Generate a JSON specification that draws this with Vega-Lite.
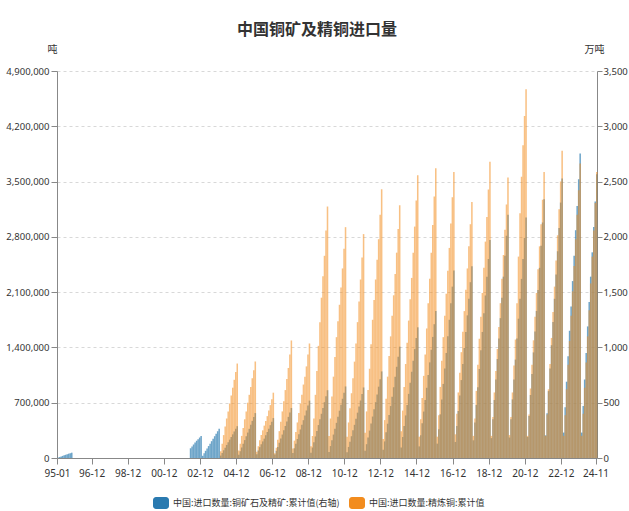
{
  "$schema": "https://vega.github.io/schema/vega-lite/v6.json",
  "width": 540,
  "height": 387,
  "autosize": {"type": "none"},
  "padding": {"left": 57, "top": 71, "right": 32, "bottom": 53},
  "background": "white",
  "title": {
    "text": "中国铜矿及精铜进口量",
    "font": "Noto Sans CJK SC",
    "fontSize": 16,
    "fontWeight": "bold",
    "color": "#333333",
    "anchor": "middle",
    "frame": "group",
    "offset": 6,
    "dx": -10
  },
  "config": {
    "view": {"stroke": null},
    "axis": {
      "labelFont": "Noto Sans",
      "labelFontSize": 9.5,
      "labelColor": "#333333",
      "titleFont": "Noto Sans CJK SC",
      "titleFontSize": 10,
      "titleFontWeight": "normal",
      "titleColor": "#333333",
      "domainColor": "#888888",
      "tickColor": "#888888",
      "gridColor": "#d8d8d8",
      "gridDash": [3, 3]
    },
    "legend": {
      "labelFont": "Noto Sans CJK SC",
      "labelFontSize": 9,
      "labelColor": "#333333"
    }
  },
  "data": {
    "values": [
      {"d": "1995-01", "ore": 4}, {"d": "1995-02", "ore": 9}, {"d": "1995-03", "ore": 14}, {"d": "1995-04", "ore": 19}, {"d": "1995-05", "ore": 24}, {"d": "1995-06", "ore": 29}, {"d": "1995-07", "ore": 34}, {"d": "1995-08", "ore": 39}, {"d": "1995-09", "ore": 44}, {"d": "1995-10", "ore": 48},
      {"d": "2002-05", "ore": 88}, {"d": "2002-06", "ore": 105}, {"d": "2002-07", "ore": 122}, {"d": "2002-08", "ore": 140}, {"d": "2002-09", "ore": 156}, {"d": "2002-10", "ore": 170}, {"d": "2002-11", "ore": 185}, {"d": "2002-12", "ore": 200},
      {"d": "2003-01", "ore": 20}, {"d": "2003-02", "ore": 42}, {"d": "2003-03", "ore": 65}, {"d": "2003-04", "ore": 85}, {"d": "2003-05", "ore": 108}, {"d": "2003-06", "ore": 130}, {"d": "2003-07", "ore": 152}, {"d": "2003-08", "ore": 175}, {"d": "2003-09", "ore": 197}, {"d": "2003-10", "ore": 220}, {"d": "2003-11", "ore": 242}, {"d": "2003-12", "ore": 265},
      {"d": "2004-01", "ore": 22, "cu": 85000}, {"d": "2004-02", "ore": 45, "cu": 180000}, {"d": "2004-03", "ore": 70, "cu": 290000}, {"d": "2004-04", "ore": 93, "cu": 400000}, {"d": "2004-05", "ore": 118, "cu": 500000}, {"d": "2004-06", "ore": 142, "cu": 590000}, {"d": "2004-07", "ore": 166, "cu": 690000}, {"d": "2004-08", "ore": 190, "cu": 790000}, {"d": "2004-09", "ore": 214, "cu": 890000}, {"d": "2004-10", "ore": 240, "cu": 990000}, {"d": "2004-11", "ore": 264, "cu": 1090000}, {"d": "2004-12", "ore": 288, "cu": 1196000},
      {"d": "2005-01", "ore": 30, "cu": 95000}, {"d": "2005-02", "ore": 62, "cu": 180000}, {"d": "2005-03", "ore": 95, "cu": 280000}, {"d": "2005-04", "ore": 128, "cu": 380000}, {"d": "2005-05", "ore": 162, "cu": 490000}, {"d": "2005-06", "ore": 196, "cu": 590000}, {"d": "2005-07", "ore": 230, "cu": 700000}, {"d": "2005-08", "ore": 264, "cu": 800000}, {"d": "2005-09", "ore": 300, "cu": 900000}, {"d": "2005-10", "ore": 336, "cu": 1010000}, {"d": "2005-11", "ore": 370, "cu": 1110000}, {"d": "2005-12", "ore": 406, "cu": 1222000},
      {"d": "2006-01", "ore": 35, "cu": 80000}, {"d": "2006-02", "ore": 68, "cu": 150000}, {"d": "2006-03", "ore": 98, "cu": 225000}, {"d": "2006-04", "ore": 125, "cu": 290000}, {"d": "2006-05", "ore": 150, "cu": 350000}, {"d": "2006-06", "ore": 175, "cu": 410000}, {"d": "2006-07", "ore": 205, "cu": 470000}, {"d": "2006-08", "ore": 235, "cu": 530000}, {"d": "2006-09", "ore": 265, "cu": 600000}, {"d": "2006-10", "ore": 297, "cu": 670000}, {"d": "2006-11", "ore": 328, "cu": 745000}, {"d": "2006-12", "ore": 361, "cu": 827000},
      {"d": "2007-01", "ore": 32, "cu": 60000}, {"d": "2007-02", "ore": 65, "cu": 130000}, {"d": "2007-03", "ore": 100, "cu": 230000}, {"d": "2007-04", "ore": 138, "cu": 340000}, {"d": "2007-05", "ore": 176, "cu": 460000}, {"d": "2007-06", "ore": 212, "cu": 590000}, {"d": "2007-07", "ore": 252, "cu": 720000}, {"d": "2007-08", "ore": 290, "cu": 860000}, {"d": "2007-09", "ore": 330, "cu": 1000000}, {"d": "2007-10", "ore": 372, "cu": 1140000}, {"d": "2007-11", "ore": 412, "cu": 1310000}, {"d": "2007-12", "ore": 452, "cu": 1488000},
      {"d": "2008-01", "ore": 45, "cu": 120000}, {"d": "2008-02", "ore": 88, "cu": 220000}, {"d": "2008-03", "ore": 130, "cu": 330000}, {"d": "2008-04", "ore": 172, "cu": 450000}, {"d": "2008-05", "ore": 215, "cu": 570000}, {"d": "2008-06", "ore": 258, "cu": 690000}, {"d": "2008-07", "ore": 300, "cu": 800000}, {"d": "2008-08", "ore": 342, "cu": 930000}, {"d": "2008-09", "ore": 385, "cu": 1030000}, {"d": "2008-10", "ore": 430, "cu": 1160000}, {"d": "2008-11", "ore": 474, "cu": 1310000}, {"d": "2008-12", "ore": 519, "cu": 1450000},
      {"d": "2009-01", "ore": 48, "cu": 150000}, {"d": "2009-02", "ore": 95, "cu": 280000}, {"d": "2009-03", "ore": 143, "cu": 500000}, {"d": "2009-04", "ore": 195, "cu": 800000}, {"d": "2009-05", "ore": 245, "cu": 1100000}, {"d": "2009-06", "ore": 298, "cu": 1420000}, {"d": "2009-07", "ore": 350, "cu": 1720000}, {"d": "2009-08", "ore": 400, "cu": 2030000}, {"d": "2009-09", "ore": 452, "cu": 2300000}, {"d": "2009-10", "ore": 505, "cu": 2560000}, {"d": "2009-11", "ore": 558, "cu": 2880000}, {"d": "2009-12", "ore": 613, "cu": 3184000},
      {"d": "2010-01", "ore": 55, "cu": 280000}, {"d": "2010-02", "ore": 108, "cu": 500000}, {"d": "2010-03", "ore": 160, "cu": 780000}, {"d": "2010-04", "ore": 212, "cu": 1030000}, {"d": "2010-05", "ore": 265, "cu": 1280000}, {"d": "2010-06", "ore": 318, "cu": 1530000}, {"d": "2010-07", "ore": 372, "cu": 1730000}, {"d": "2010-08", "ore": 428, "cu": 1940000}, {"d": "2010-09", "ore": 482, "cu": 2160000}, {"d": "2010-10", "ore": 536, "cu": 2400000}, {"d": "2010-11", "ore": 590, "cu": 2650000}, {"d": "2010-12", "ore": 647, "cu": 2923000},
      {"d": "2011-01", "ore": 52, "cu": 270000}, {"d": "2011-02", "ore": 100, "cu": 450000}, {"d": "2011-03", "ore": 148, "cu": 630000}, {"d": "2011-04", "ore": 197, "cu": 820000}, {"d": "2011-05", "ore": 250, "cu": 1010000}, {"d": "2011-06", "ore": 300, "cu": 1220000}, {"d": "2011-07", "ore": 355, "cu": 1450000}, {"d": "2011-08", "ore": 410, "cu": 1720000}, {"d": "2011-09", "ore": 465, "cu": 1980000}, {"d": "2011-10", "ore": 520, "cu": 2260000}, {"d": "2011-11", "ore": 578, "cu": 2540000}, {"d": "2011-12", "ore": 638, "cu": 2835000},
      {"d": "2012-01", "ore": 65, "cu": 320000}, {"d": "2012-02", "ore": 125, "cu": 590000}, {"d": "2012-03", "ore": 185, "cu": 860000}, {"d": "2012-04", "ore": 248, "cu": 1130000}, {"d": "2012-05", "ore": 312, "cu": 1440000}, {"d": "2012-06", "ore": 375, "cu": 1750000}, {"d": "2012-07", "ore": 440, "cu": 2000000}, {"d": "2012-08", "ore": 505, "cu": 2260000}, {"d": "2012-09", "ore": 575, "cu": 2510000}, {"d": "2012-10", "ore": 645, "cu": 2770000}, {"d": "2012-11", "ore": 712, "cu": 3080000}, {"d": "2012-12", "ore": 783, "cu": 3403000},
      {"d": "2013-01", "ore": 75, "cu": 240000}, {"d": "2013-02", "ore": 150, "cu": 480000}, {"d": "2013-03", "ore": 232, "cu": 750000}, {"d": "2013-04", "ore": 310, "cu": 1030000}, {"d": "2013-05", "ore": 390, "cu": 1290000}, {"d": "2013-06", "ore": 470, "cu": 1540000}, {"d": "2013-07", "ore": 555, "cu": 1800000}, {"d": "2013-08", "ore": 640, "cu": 2060000}, {"d": "2013-09", "ore": 735, "cu": 2330000}, {"d": "2013-10", "ore": 825, "cu": 2600000}, {"d": "2013-11", "ore": 915, "cu": 2900000}, {"d": "2013-12", "ore": 1007, "cu": 3200000},
      {"d": "2014-01", "ore": 95, "cu": 340000}, {"d": "2014-02", "ore": 190, "cu": 600000}, {"d": "2014-03", "ore": 290, "cu": 900000}, {"d": "2014-04", "ore": 385, "cu": 1190000}, {"d": "2014-05", "ore": 480, "cu": 1460000}, {"d": "2014-06", "ore": 580, "cu": 1740000}, {"d": "2014-07", "ore": 680, "cu": 2010000}, {"d": "2014-08", "ore": 780, "cu": 2280000}, {"d": "2014-09", "ore": 880, "cu": 2600000}, {"d": "2014-10", "ore": 985, "cu": 2930000}, {"d": "2014-11", "ore": 1085, "cu": 3260000}, {"d": "2014-12", "ore": 1182, "cu": 3580000},
      {"d": "2015-01", "ore": 105, "cu": 270000}, {"d": "2015-02", "ore": 205, "cu": 490000}, {"d": "2015-03", "ore": 315, "cu": 760000}, {"d": "2015-04", "ore": 420, "cu": 1040000}, {"d": "2015-05", "ore": 525, "cu": 1310000}, {"d": "2015-06", "ore": 635, "cu": 1640000}, {"d": "2015-07", "ore": 750, "cu": 1960000}, {"d": "2015-08", "ore": 865, "cu": 2270000}, {"d": "2015-09", "ore": 980, "cu": 2600000}, {"d": "2015-10", "ore": 1095, "cu": 2950000}, {"d": "2015-11", "ore": 1210, "cu": 3310000}, {"d": "2015-12", "ore": 1329, "cu": 3670000},
      {"d": "2016-01", "ore": 130, "cu": 270000}, {"d": "2016-02", "ore": 260, "cu": 540000}, {"d": "2016-03", "ore": 395, "cu": 900000}, {"d": "2016-04", "ore": 530, "cu": 1230000}, {"d": "2016-05", "ore": 670, "cu": 1530000}, {"d": "2016-06", "ore": 810, "cu": 1800000}, {"d": "2016-07", "ore": 950, "cu": 2080000}, {"d": "2016-08", "ore": 1100, "cu": 2370000}, {"d": "2016-09", "ore": 1250, "cu": 2660000}, {"d": "2016-10", "ore": 1400, "cu": 2970000}, {"d": "2016-11", "ore": 1550, "cu": 3300000}, {"d": "2016-12", "ore": 1696, "cu": 3620000},
      {"d": "2017-01", "ore": 145, "cu": 300000}, {"d": "2017-02", "ore": 290, "cu": 560000}, {"d": "2017-03", "ore": 425, "cu": 830000}, {"d": "2017-04", "ore": 565, "cu": 1080000}, {"d": "2017-05", "ore": 705, "cu": 1340000}, {"d": "2017-06", "ore": 850, "cu": 1600000}, {"d": "2017-07", "ore": 995, "cu": 1860000}, {"d": "2017-08", "ore": 1140, "cu": 2130000}, {"d": "2017-09", "ore": 1290, "cu": 2400000}, {"d": "2017-10", "ore": 1440, "cu": 2680000}, {"d": "2017-11", "ore": 1590, "cu": 2960000}, {"d": "2017-12", "ore": 1735, "cu": 3240000},
      {"d": "2018-01", "ore": 160, "cu": 280000}, {"d": "2018-02", "ore": 320, "cu": 500000}, {"d": "2018-03", "ore": 480, "cu": 850000}, {"d": "2018-04", "ore": 640, "cu": 1180000}, {"d": "2018-05", "ore": 805, "cu": 1510000}, {"d": "2018-06", "ore": 975, "cu": 1790000}, {"d": "2018-07", "ore": 1140, "cu": 2090000}, {"d": "2018-08", "ore": 1310, "cu": 2410000}, {"d": "2018-09", "ore": 1470, "cu": 2740000}, {"d": "2018-10", "ore": 1640, "cu": 3050000}, {"d": "2018-11", "ore": 1800, "cu": 3400000}, {"d": "2018-12", "ore": 1972, "cu": 3750000},
      {"d": "2019-01", "ore": 180, "cu": 280000}, {"d": "2019-02", "ore": 350, "cu": 520000}, {"d": "2019-03", "ore": 525, "cu": 830000}, {"d": "2019-04", "ore": 710, "cu": 1100000}, {"d": "2019-05", "ore": 895, "cu": 1380000}, {"d": "2019-06", "ore": 1080, "cu": 1660000}, {"d": "2019-07", "ore": 1265, "cu": 1960000}, {"d": "2019-08", "ore": 1450, "cu": 2270000}, {"d": "2019-09", "ore": 1640, "cu": 2570000}, {"d": "2019-10", "ore": 1830, "cu": 2890000}, {"d": "2019-11", "ore": 2010, "cu": 3210000}, {"d": "2019-12", "ore": 2199, "cu": 3550000},
      {"d": "2020-01", "ore": 185, "cu": 290000}, {"d": "2020-02", "ore": 350, "cu": 520000}, {"d": "2020-03", "ore": 530, "cu": 830000}, {"d": "2020-04", "ore": 710, "cu": 1170000}, {"d": "2020-05", "ore": 890, "cu": 1500000}, {"d": "2020-06", "ore": 1080, "cu": 1960000}, {"d": "2020-07", "ore": 1260, "cu": 2550000}, {"d": "2020-08", "ore": 1440, "cu": 3100000}, {"d": "2020-09", "ore": 1620, "cu": 3560000}, {"d": "2020-10", "ore": 1800, "cu": 3960000}, {"d": "2020-11", "ore": 1990, "cu": 4330000}, {"d": "2020-12", "ore": 2176, "cu": 4670000},
      {"d": "2021-01", "ore": 190, "cu": 280000}, {"d": "2021-02", "ore": 380, "cu": 550000}, {"d": "2021-03", "ore": 570, "cu": 880000}, {"d": "2021-04", "ore": 760, "cu": 1180000}, {"d": "2021-05", "ore": 955, "cu": 1490000}, {"d": "2021-06", "ore": 1145, "cu": 1790000}, {"d": "2021-07", "ore": 1330, "cu": 2090000}, {"d": "2021-08", "ore": 1520, "cu": 2390000}, {"d": "2021-09", "ore": 1720, "cu": 2680000}, {"d": "2021-10", "ore": 1920, "cu": 2960000}, {"d": "2021-11", "ore": 2130, "cu": 3270000}, {"d": "2021-12", "ore": 2340, "cu": 3620000},
      {"d": "2022-01", "ore": 205, "cu": 280000}, {"d": "2022-02", "ore": 405, "cu": 550000}, {"d": "2022-03", "ore": 605, "cu": 870000}, {"d": "2022-04", "ore": 810, "cu": 1190000}, {"d": "2022-05", "ore": 1020, "cu": 1520000}, {"d": "2022-06", "ore": 1230, "cu": 1850000}, {"d": "2022-07", "ore": 1440, "cu": 2170000}, {"d": "2022-08", "ore": 1660, "cu": 2500000}, {"d": "2022-09", "ore": 1870, "cu": 2820000}, {"d": "2022-10", "ore": 2080, "cu": 3150000}, {"d": "2022-11", "ore": 2310, "cu": 3500000}, {"d": "2022-12", "ore": 2527, "cu": 3890000},
      {"d": "2023-01", "ore": 230, "cu": 280000}, {"d": "2023-02", "ore": 460, "cu": 540000}, {"d": "2023-03", "ore": 690, "cu": 870000}, {"d": "2023-04", "ore": 920, "cu": 1180000}, {"d": "2023-05", "ore": 1150, "cu": 1480000}, {"d": "2023-06", "ore": 1370, "cu": 1800000}, {"d": "2023-07", "ore": 1600, "cu": 2110000}, {"d": "2023-08", "ore": 1830, "cu": 2430000}, {"d": "2023-09", "ore": 2060, "cu": 2770000}, {"d": "2023-10", "ore": 2280, "cu": 3080000}, {"d": "2023-11", "ore": 2520, "cu": 3390000}, {"d": "2023-12", "ore": 2754, "cu": 3730000},
      {"d": "2024-01", "ore": 230, "cu": 280000}, {"d": "2024-02", "ore": 470, "cu": 560000}, {"d": "2024-03", "ore": 710, "cu": 890000}, {"d": "2024-04", "ore": 950, "cu": 1210000}, {"d": "2024-05", "ore": 1190, "cu": 1540000}, {"d": "2024-06", "ore": 1410, "cu": 1870000}, {"d": "2024-07", "ore": 1640, "cu": 2210000}, {"d": "2024-08", "ore": 1860, "cu": 2550000}, {"d": "2024-09", "ore": 2090, "cu": 2880000}, {"d": "2024-10", "ore": 2320, "cu": 3230000}, {"d": "2024-11", "ore": 2567, "cu": 3620000}
    ]
  },
  "encoding": {
    "x": {
      "field": "d",
      "timeUnit": "utcyearmonth",
      "type": "temporal",
      "scale": {
        "domain": [
          {"year": 1995, "month": 1, "date": 1, "utc": true},
          {"year": 2024, "month": 12, "date": 1, "utc": true}
        ]
      },
      "axis": {
        "title": null,
        "grid": false,
        "values": [
          {"year": 1995, "month": 1, "date": 1, "utc": true},
          {"year": 1996, "month": 12, "date": 1, "utc": true},
          {"year": 1998, "month": 12, "date": 1, "utc": true},
          {"year": 2000, "month": 12, "date": 1, "utc": true},
          {"year": 2002, "month": 12, "date": 1, "utc": true},
          {"year": 2004, "month": 12, "date": 1, "utc": true},
          {"year": 2006, "month": 12, "date": 1, "utc": true},
          {"year": 2008, "month": 12, "date": 1, "utc": true},
          {"year": 2010, "month": 12, "date": 1, "utc": true},
          {"year": 2012, "month": 12, "date": 1, "utc": true},
          {"year": 2014, "month": 12, "date": 1, "utc": true},
          {"year": 2016, "month": 12, "date": 1, "utc": true},
          {"year": 2018, "month": 12, "date": 1, "utc": true},
          {"year": 2020, "month": 12, "date": 1, "utc": true},
          {"year": 2022, "month": 12, "date": 1, "utc": true},
          {"year": 2024, "month": 11, "date": 1, "utc": true}
        ],
        "labelExpr": "utcFormat(datum.value, '%y-%m')",
        "tickSize": 6,
        "labelPadding": 4,
        "labelFontSize": 10,
        "labelFlush": false,
        "labelOverlap": false
      }
    }
  },
  "layer": [
    {
      "mark": {"type": "bar", "binSpacing": 0, "timeUnitBandSize": 0.7, "fillOpacity": 0.68},
      "encoding": {
        "y": {
          "field": "ore",
          "type": "quantitative",
          "scale": {"domain": [0, 3500], "nice": false},
          "axis": {
            "orient": "right",
            "values": [0, 500, 1000, 1500, 2000, 2500, 3000, 3500],
            "labelExpr": "format(datum.value, ',')",
            "grid": false,
            "tickSize": 5,
            "labelPadding": 1,
            "title": "万吨",
            "titleAngle": 0,
            "titleX": -3,
            "titleY": -22,
            "titleAlign": "center",
            "titleBaseline": "middle"
          }
        },
        "color": {
          "datum": "中国:进口数量:铜矿石及精矿:累计值(右轴)",
          "scale": {
            "domain": ["中国:进口数量:铜矿石及精矿:累计值(右轴)", "中国:进口数量:精炼铜:累计值"],
            "range": ["#2a7ab0", "#f28c1e"]
          },
          "legend": {
            "title": null,
            "orient": "none",
            "direction": "horizontal",
            "legendX": 96,
            "legendY": 424,
            "padding": 0,
            "symbolType": "M-0.625,-0.75H0.625A0.375,0.375 0 0 1 1,-0.375V0.375A0.375,0.375 0 0 1 0.625,0.75H-0.625A0.375,0.375 0 0 1 -1,0.375V-0.375A0.375,0.375 0 0 1 -0.625,-0.75Z",
            "symbolSize": 256,
            "symbolOpacity": 1,
            "symbolStrokeWidth": 0,
            "labelOffset": 4,
            "columnPadding": 9,
            "labelLimit": 300
          }
        }
      }
    },
    {
      "mark": {"type": "bar", "binSpacing": 0, "timeUnitBandSize": 0.7, "fillOpacity": 0.55},
      "encoding": {
        "y": {
          "field": "cu",
          "type": "quantitative",
          "scale": {"domain": [0, 4900000], "nice": false},
          "axis": {
            "orient": "left",
            "values": [0, 700000, 1400000, 2100000, 2800000, 3500000, 4200000, 4900000],
            "labelExpr": "format(datum.value, ',')",
            "grid": true,
            "tickSize": 6,
            "labelPadding": 2,
            "title": "吨",
            "titleAngle": 0,
            "titleX": -5,
            "titleY": -22,
            "titleAlign": "center",
            "titleBaseline": "middle"
          }
        },
        "color": {"datum": "中国:进口数量:精炼铜:累计值"}
      }
    }
  ],
  "resolve": {"scale": {"y": "independent"}}
}
